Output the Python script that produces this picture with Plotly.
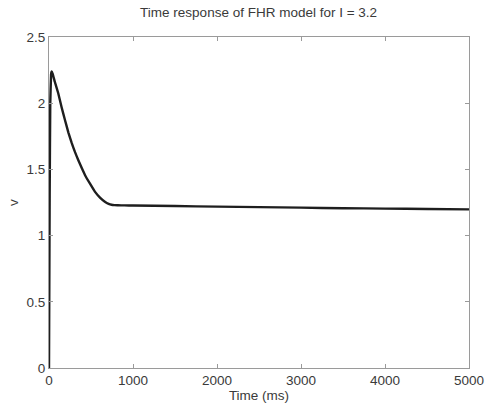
import plotly.graph_objects as go

t_ms = [0, 3, 8, 15, 25, 32, 45, 70, 110, 150, 190, 230, 270, 310, 348, 390, 428, 490, 546,
        610, 665, 710, 745, 780, 820, 900, 1000,
        1500, 2000, 2500, 3000, 3500, 4000, 4500, 5000]
v_vals = [0.0, 0.5, 1.3, 2.0, 2.22, 2.24, 2.22, 2.16, 2.075, 1.97, 1.873, 1.78, 1.70, 1.63,
          1.571, 1.51, 1.458, 1.39, 1.332, 1.285, 1.256, 1.240, 1.233, 1.230, 1.229, 1.228, 1.227,
          1.223, 1.219, 1.215, 1.211, 1.207, 1.204, 1.201, 1.198]

x_ticks = [0, 1000, 2000, 3000, 4000, 5000]
y_ticks = [0, 0.5, 1, 1.5, 2, 2.5]
y_tick_text = ["0", "0.5", "1", "1.5", "2", "2.5"]

FONT = "Liberation Sans, Arial"
TXT = "#3a3a3a"

fig = go.Figure()
fig.add_trace(go.Scatter(x=t_ms, y=v_vals, mode="lines",
                         line=dict(color="#1e1e1e", width=2.4, shape="spline", smoothing=0.2),
                         showlegend=False, hoverinfo="skip"))

axis_common = dict(showgrid=False, zeroline=False, showline=True, linecolor="#9a9a9a",
                   linewidth=1, mirror="ticks", ticks="inside", ticklen=4, tickcolor="#9a9a9a",
                   automargin=False,
                   tickfont=dict(family=FONT, size=13.5, color=TXT))

fig.update_layout(
    width=487, height=405,
    margin=dict(l=49, r=18, t=37, b=37, autoexpand=False),
    paper_bgcolor="white", plot_bgcolor="white",
    title=dict(text="Time response of FHR model for I = 3.2", x=0.531, xanchor="center",
               y=0.970, yanchor="middle",
               font=dict(family=FONT, size=13.5, color=TXT)),
    xaxis=dict(range=[0, 5000], tickvals=x_ticks, ticktext=[str(v) for v in x_ticks],
               title=dict(text="Time (ms)", standoff=0,
                          font=dict(family=FONT, size=13.5, color=TXT)),
               **axis_common),
    yaxis=dict(range=[0, 2.5], tickvals=y_ticks, ticktext=y_tick_text,
               title=dict(text="v", standoff=4,
                          font=dict(family=FONT, size=13.5, color=TXT)),
               **axis_common),
)

fig.write_html("out.html")
